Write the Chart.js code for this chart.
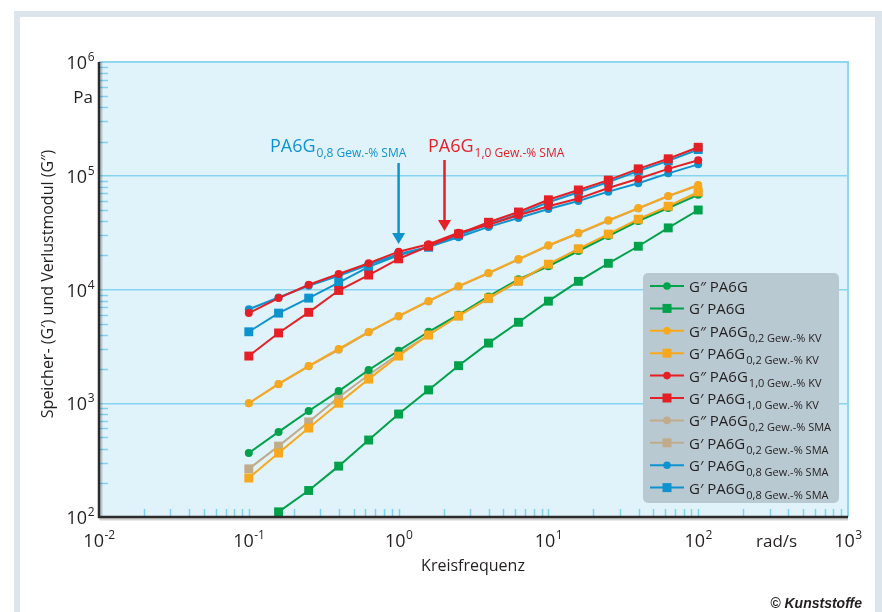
<!DOCTYPE html>
<html>
<head>
<meta charset="utf-8">
<script src="https://cdn.jsdelivr.net/npm/chart.js@4.4.1/dist/chart.umd.min.js"></script>
<style>
html, body { margin: 0; padding: 0; background: #fff; }
canvas { display: block; }
</style>
</head>
<body>
<canvas id="rheo" width="882" height="612"></canvas>
<script>
// Kreisfrequenz in rad/s
const freq = [0.1, 0.158, 0.251, 0.398, 0.631, 1, 1.585, 2.512, 3.981, 6.31, 10, 15.85, 25.12, 39.81, 63.1, 100];

// G'' / G' in Pa
const lossPA6G   = [365, 560, 855, 1280, 1960, 2900, 4250, 6000, 8700, 12300, 16000, 21800, 29500, 40000, 52000, 68000];
const storePA6G  = [null, 111, 171, 280, 475, 804, 1310, 2140, 3380, 5150, 7900, 11800, 17000, 24000, 34800, 50000];
const lossKV02   = [1000, 1480, 2130, 3000, 4240, 5850, 7930, 10700, 14000, 18500, 24500, 31500, 40700, 52000, 66500, 83000];
const storeKV02  = [220, 365, 605, 1000, 1630, 2600, 3980, 5850, 8400, 11900, 16700, 22800, 30700, 41500, 54000, 72000];
const lossKV10   = [6200, 8400, 11000, 13700, 17000, 21500, 25000, 31500, 37000, 45000, 54000, 63000, 78000, 94000, 115000, 137000];
const storeKV10  = [2600, 4150, 6300, 9800, 13400, 18600, 24000, 30800, 39000, 48000, 61500, 75000, 91500, 115000, 141000, 178000];
const lossSMA02  = [1000, 1470, 2110, 2950, 4200, 5800, 7850, 10600, 13900, 18300, 24200, 31000, 40200, 51500, 66000, 82000];
const storeSMA02 = [265, 420, 685, 1130, 1770, 2700, 4000, 5850, 8300, 11800, 16500, 22600, 30400, 41000, 53500, 71000];
const lossSMA08  = [6700, 8500, 10800, 13200, 16500, 20500, 23700, 28800, 35500, 42500, 51000, 60000, 72500, 86000, 105000, 126000];
const storeSMA08 = [4250, 6200, 8400, 11500, 15800, 20000, 23500, 30000, 37500, 46000, 58500, 71500, 88000, 110000, 135000, 170000];

const legendNames = ['G″ PA6G', 'G′ PA6G', 'G″ PA6G', 'G′ PA6G', 'G″ PA6G', 'G′ PA6G', 'G″ PA6G', 'G′ PA6G', 'G′ PA6G', 'G′ PA6G'];
const legendSubs  = ['', '', '0,2 Gew.-% KV', '0,2 Gew.-% KV', '1,0 Gew.-% KV', '1,0 Gew.-% KV', '0,2 Gew.-% SMA', '0,2 Gew.-% SMA', '0,8 Gew.-% SMA', '0,8 Gew.-% SMA'];

const xTicks = [-2, -1, 0, 1, 2, 3];
const yTicks = [2, 3, 4, 5, 6];

const FONT = '"Open Sans", "Noto Sans", sans-serif';
const GREEN = '#00a14b', ORANGE = '#f8a81c', RED = '#e51f26', TAN = '#c0ab8a', BLUE = '#0f93cf';

function pts(arr) {
    return freq.map((f, i) => ({ x: f, y: arr[i] }));
}

function series(i, arr, color, style, order) {
    return {
        label: legendNames[i] + (legendSubs[i] ? ' ' + legendSubs[i] : ''),
        data: pts(arr),
        borderColor: color,
        backgroundColor: color,
        borderWidth: 2,
        pointStyle: style,
        pointRadius: style === 'rect' ? 6.3 : 4,
        pointBorderWidth: 0,
        order: order
    };
}

const sets = [
    series(0, lossPA6G, GREEN, 'circle', 5),
    series(1, storePA6G, GREEN, 'rect', 6),
    series(2, lossKV02, ORANGE, 'circle', 3),
    series(3, storeKV02, ORANGE, 'rect', 4),
    series(4, lossKV10, RED, 'circle', 2),
    series(5, storeKV10, RED, 'rect', 1),
    series(6, lossSMA02, TAN, 'circle', 7),
    series(7, storeSMA02, TAN, 'rect', 8),
    series(8, lossSMA08, BLUE, 'circle', 9),
    series(9, storeSMA08, BLUE, 'rect', 10)
];

function pow10(ctx, exp, x, y, align) {
    const base = '10', e = String(exp);
    ctx.font = '18px ' + FONT;
    const wb = ctx.measureText(base).width;
    ctx.font = '12px ' + FONT;
    const we = ctx.measureText(e).width;
    let left = x;
    if (align === 'right') left = x - wb - we;
    if (align === 'center') left = x - (wb + we) / 2;
    ctx.textAlign = 'left';
    ctx.textBaseline = 'alphabetic';
    ctx.font = '18px ' + FONT;
    ctx.fillText(base, left, y);
    ctx.font = '12px ' + FONT;
    ctx.fillText(e, left + wb + 0.5, y - 8);
}

function subText(ctx, main, sub, x, y, size, subSize, drop) {
    ctx.textAlign = 'left';
    ctx.textBaseline = 'alphabetic';
    ctx.font = size + 'px ' + FONT;
    ctx.fillText(main, x, y);
    const w = ctx.measureText(main).width;
    if (sub) {
        ctx.font = subSize + 'px ' + FONT;
        ctx.fillText(sub, x + w + 1, y + drop);
    }
}

function arrow(ctx, x, y0, y1, color) {
    ctx.strokeStyle = color;
    ctx.fillStyle = color;
    ctx.lineWidth = 2.5;
    ctx.beginPath();
    ctx.moveTo(x, y0);
    ctx.lineTo(x, y1 - 8);
    ctx.stroke();
    ctx.beginPath();
    ctx.moveTo(x - 6.5, y1 - 11);
    ctx.lineTo(x + 6.5, y1 - 11);
    ctx.lineTo(x, y1);
    ctx.closePath();
    ctx.fill();
}

const decor = {
    id: 'decor',
    beforeDraw(chart) {
        const { ctx, chartArea: a } = chart;
        ctx.save();
        ctx.fillStyle = '#ffffff';
        ctx.fillRect(0, 0, chart.width, chart.height);
        ctx.fillStyle = '#dde5ec';
        ctx.fillRect(14, 11, 868, 6);
        ctx.fillRect(14, 11, 6, 601);
        ctx.fillRect(875, 11, 7, 601);
        ctx.fillStyle = '#e1f3fa';
        ctx.fillRect(a.left, a.top, a.right - a.left, a.bottom - a.top);
        ctx.restore();
    },
    beforeDatasetsDraw(chart) {
        const { ctx, chartArea: a, scales } = chart;
        ctx.save();
        ctx.strokeStyle = '#7fd1f1';
        ctx.lineWidth = 1.5;
        // minor ticks, y
        for (let d = 2; d < 6; d++) {
            for (let m = 2; m <= 9; m++) {
                const py = Math.round(scales.y.getPixelForValue(m * Math.pow(10, d))) + 0.5;
                ctx.beginPath();
                ctx.moveTo(a.left, py);
                ctx.lineTo(a.left + 9, py);
                ctx.stroke();
            }
        }
        // minor ticks, x
        for (let d = -2; d < 3; d++) {
            for (let m = 1; m <= 9; m++) {
                if (d === -2 && m === 1) continue;
                const px = Math.round(scales.x.getPixelForValue(m * Math.pow(10, d))) + 0.5;
                ctx.beginPath();
                ctx.moveTo(px, a.bottom);
                ctx.lineTo(px, a.bottom - 8);
                ctx.stroke();
            }
        }
        // top / right edge
        ctx.strokeStyle = '#8fd6f2';
        ctx.lineWidth = 2;
        ctx.beginPath();
        ctx.moveTo(a.left, a.top);
        ctx.lineTo(a.right, a.top);
        ctx.lineTo(a.right, a.bottom);
        ctx.stroke();
        ctx.restore();
    },
    afterDraw(chart) {
        const { ctx, chartArea: a, scales } = chart;
        ctx.save();
        // axes
        ctx.strokeStyle = 'rgba(0,0,0,0.18)';
        ctx.lineWidth = 3;
        ctx.beginPath();
        ctx.moveTo(a.left + 2, a.top);
        ctx.lineTo(a.left + 2, a.bottom + 2);
        ctx.lineTo(a.right, a.bottom + 2);
        ctx.stroke();
        ctx.strokeStyle = '#2b2b2b';
        ctx.lineWidth = 2.5;
        ctx.beginPath();
        ctx.moveTo(a.left, a.top);
        ctx.lineTo(a.left, a.bottom);
        ctx.lineTo(a.right, a.bottom);
        ctx.stroke();

        // tick labels
        ctx.fillStyle = '#231f20';
        yTicks.forEach(e => {
            const py = scales.y.getPixelForValue(Math.pow(10, e));
            pow10(ctx, e, 94, py + 7, 'right');
        });
        xTicks.forEach(e => {
            const px = scales.x.getPixelForValue(Math.pow(10, e));
            pow10(ctx, e, px, 547, 'center');
        });
        ctx.font = '17px ' + FONT;
        ctx.textAlign = 'right';
        ctx.fillText('Pa', 93, 103);
        ctx.textAlign = 'left';
        ctx.fillText('rad/s', 756, 547);

        // axis titles
        ctx.font = '16px ' + FONT;
        ctx.textAlign = 'center';
        ctx.fillText('Kreisfrequenz', 473, 571);
        ctx.save();
        ctx.translate(53, 284);
        ctx.rotate(-Math.PI / 2);
        ctx.fillText('Speicher- (G′) und Verlustmodul (G″)', 0, 0);
        ctx.restore();

        ctx.font = 'italic bold 14px "Liberation Sans", Arial, sans-serif';
        ctx.textAlign = 'right';
        ctx.fillText('© Kunststoffe', 862, 608);

        // annotations
        ctx.fillStyle = BLUE;
        subText(ctx, 'PA6G', '0,8 Gew.-% SMA', 270, 152, 18, 12, 4.5);
        ctx.fillStyle = RED;
        subText(ctx, 'PA6G', '1,0 Gew.-% SMA', 428, 152, 18, 12, 4.5);
        arrow(ctx, scales.x.getPixelForValue(1), 163, 244, BLUE);
        arrow(ctx, 444.5, 160, 231, RED);

        // legend box
        const bx = 643, by = 273, bw = 196, bh = 230;
        ctx.fillStyle = '#b9c9d1';
        ctx.beginPath();
        ctx.roundRect(bx, by, bw, bh, 5);
        ctx.fill();
        sets.forEach((ds, i) => {
            const ly = 286 + i * 22.4;
            ctx.strokeStyle = ds.borderColor;
            ctx.fillStyle = ds.borderColor;
            ctx.lineWidth = 2;
            ctx.beginPath();
            ctx.moveTo(650, ly);
            ctx.lineTo(684, ly);
            ctx.stroke();
            if (ds.pointStyle === 'rect') {
                ctx.fillRect(662.5, ly - 4.5, 9, 9);
            } else {
                ctx.beginPath();
                ctx.arc(667, ly, 3.8, 0, Math.PI * 2);
                ctx.fill();
            }
            ctx.fillStyle = '#231f20';
            subText(ctx, legendNames[i], legendSubs[i], 689, ly + 6, 15, 11, 5);
        });
        ctx.restore();
    }
};

new Chart(document.getElementById('rheo').getContext('2d'), {
    type: 'line',
    data: { datasets: sets },
    options: {
        responsive: false,
        animation: false,
        events: [],
        layout: { padding: { left: 99, right: 34, top: 62, bottom: 95 } },
        plugins: { legend: { display: false }, tooltip: { enabled: false } },
        scales: {
            x: {
                type: 'logarithmic', min: 0.01, max: 1000,
                ticks: { display: false },
                grid: { display: false },
                border: { display: false },
                afterFit(s) { s.height = 0; }
            },
            y: {
                type: 'logarithmic', min: 100, max: 1e6,
                ticks: { display: false },
                afterBuildTicks(s) { s.ticks = yTicks.map(e => ({ value: Math.pow(10, e) })); },
                grid: {
                    drawTicks: false,
                    lineWidth: 1.5,
                    color: c => (c.tick && (c.tick.value === 1e3 || c.tick.value === 1e4 || c.tick.value === 1e5)) ? '#86d4f1' : 'rgba(0,0,0,0)'
                },
                border: { display: false },
                afterFit(s) { s.width = 0; }
            }
        }
    },
    plugins: [decor]
});
</script>
</body>
</html>
